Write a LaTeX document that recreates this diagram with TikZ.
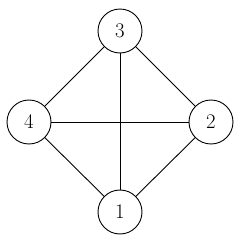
\documentclass[tikz,border=0pt]{standalone}
\usepackage{tikz}
\usetikzlibrary{positioning}

\begin{document}
\begin{tikzpicture}[
  x=1pt,y=1pt,
  vertex/.style={draw=black,fill=white,circle,minimum size=44pt,inner sep=0pt,line width=0.9pt,font=\huge},
  edge/.style={draw=black,line width=0.9pt}
]
  \useasboundingbox (0,0) rectangle (242,242);
  \node[vertex] (n3) at (120,211) {3};
  \node[vertex] (n4) at (29,120) {4};
  \node[vertex] (n2) at (211,120) {2};
  \node[vertex] (n1) at (120,30) {1};

  \draw[edge] (n3) -- (n4);
  \draw[edge] (n3) -- (n2);
  \draw[edge] (n3) -- (n1);
  \draw[edge] (n4) -- (n2);
  \draw[edge] (n4) -- (n1);
  \draw[edge] (n2) -- (n1);
\end{tikzpicture}
\end{document}
